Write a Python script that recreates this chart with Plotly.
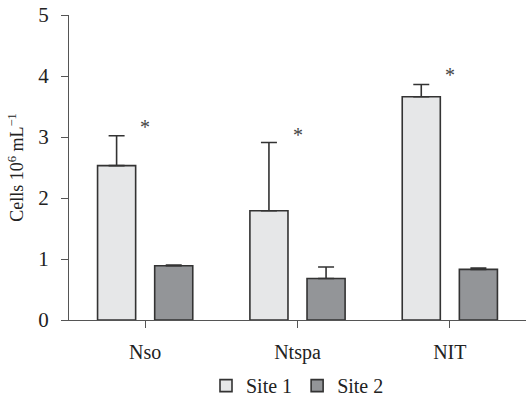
import plotly.graph_objects as go

categories = ["Nso", "Ntspa", "NIT"]
site1 = [2.53, 1.79, 3.66]
site1_err = [0.49, 1.12, 0.20]
site2 = [0.89, 0.68, 0.83]
site2_err = [0.01, 0.19, 0.02]
star_y = [3.16, 3.03, 4.02]
yticks = [0, 1, 2, 3, 4, 5]

FONT = "Liberation Serif, Times New Roman, serif"
fig = go.Figure()
fig.add_trace(go.Bar(
    x=categories, y=site1, name="Site 1", width=0.25, offset=-0.3125,
    marker=dict(color="#e6e7e8", line=dict(color="#333333", width=1.6)),
    error_y=dict(type="data", array=site1_err, arrayminus=[0]*3, symmetric=False,
                 color="#333333", thickness=1.6, width=8),
))
fig.add_trace(go.Bar(
    x=categories, y=site2, name="Site 2", width=0.25, offset=0.0625,
    marker=dict(color="#939598", line=dict(color="#333333", width=1.6)),
    error_y=dict(type="data", array=site2_err, arrayminus=[0]*3, symmetric=False,
                 color="#333333", thickness=1.6, width=8),
))
for c, y in zip(categories, star_y):
    fig.add_annotation(x=c, y=y, text="*", showarrow=False,
                       font=dict(family=FONT, size=20, color="#444444"))

fig.update_layout(
    width=526, height=396,
    margin=dict(l=69, r=0, t=15, b=76, autoexpand=False),
    plot_bgcolor="white", paper_bgcolor="white",
    font=dict(family=FONT, size=20, color="#222222"),
    barmode="overlay",
    showlegend=True,
    legend=dict(orientation="h", x=0.5, xanchor="center", y=-0.215, yanchor="middle",
                font=dict(family=FONT, size=20), itemwidth=30),
    xaxis=dict(range=[-0.5, 2.5], showline=True, linecolor="#555555", linewidth=1.3,
               ticks="outside", ticklen=7, tickcolor="#555555", showgrid=False,
               tickfont=dict(size=20), automargin=False, ticklabelstandoff=7),
    yaxis=dict(range=[0, 5], tickvals=yticks, showline=True, linecolor="#555555",
               linewidth=1.3, ticks="outside", ticklen=7, tickcolor="#555555",
               showgrid=False, zeroline=False, tickfont=dict(size=21),
               ticklabelstandoff=8, automargin=False,
               title=dict(text="Cells 10<sup>6</sup> mL<sup>−1</sup>",
                          font=dict(size=18), standoff=9)),
)
fig.write_html("out.html", config={"displayModeBar": False},
               post_script="document.body.style.margin='0';document.body.style.overflow='hidden';")
